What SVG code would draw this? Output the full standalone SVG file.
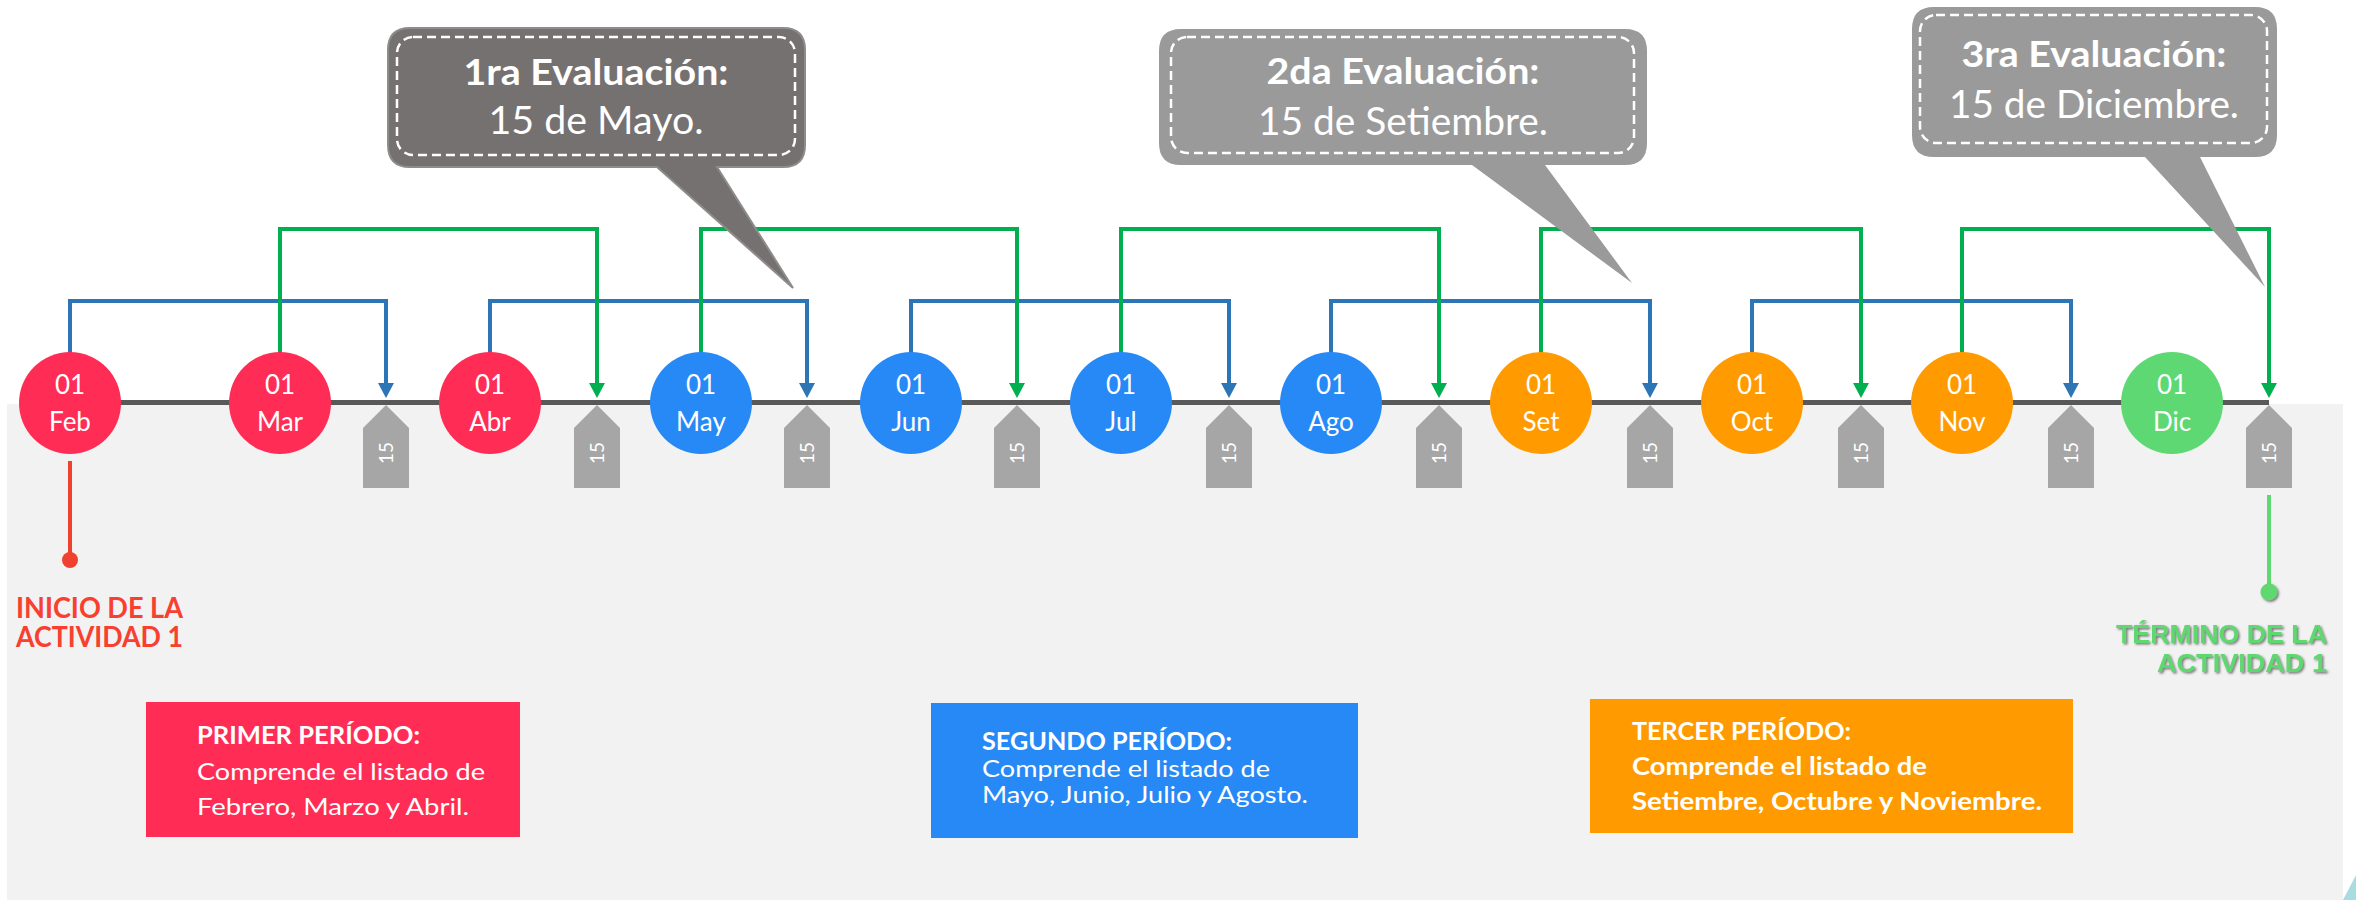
<svg xmlns="http://www.w3.org/2000/svg" width="2356" height="900" viewBox="0 0 2356 900">
<defs>
<style>
text{font-family:Lato,"Open Sans","Liberation Sans",sans-serif;}
.cir{stroke:none;}
.red{fill:#FF2D55;}
.blu{fill:#2789F6;}
.org{fill:#FF9A00;}
.grn{fill:#5ED873;}
.ct{fill:#fff;font-size:26px;text-anchor:middle;}
.tag{fill:#A6A6A6;}
.tt{fill:#fff;font-size:19px;text-anchor:middle;}
.cb{fill:none;stroke:#2E75B6;stroke-width:4;marker-end:url(#ab);}
.cg{fill:none;stroke:#00B050;stroke-width:4;marker-end:url(#ag);}
.dash{fill:none;stroke:#fff;stroke-width:2.5;stroke-dasharray:9 5;}
.h1{fill:#fff;font-size:36px;font-weight:bold;text-anchor:middle;}
.h2{fill:#fff;font-size:38px;text-anchor:middle;}
.pt{fill:#fff;font-size:24px;}
.b{font-weight:bold;}
</style>
<marker id="ab" markerUnits="userSpaceOnUse" markerWidth="16" markerHeight="16" refX="3" refY="8" orient="auto"><path d="M0,0 L15,8 L0,16 z" fill="#2E75B6"/></marker>
<marker id="ag" markerUnits="userSpaceOnUse" markerWidth="16" markerHeight="16" refX="3" refY="8" orient="auto"><path d="M0,0 L15,8 L0,16 z" fill="#00B050"/></marker>
<filter id="sh" x="-10%" y="-20%" width="120%" height="150%"><feDropShadow dx="1.5" dy="1.5" stdDeviation="0.8" flood-color="#6b6b6b" flood-opacity="0.9"/></filter>
</defs>
<rect x="0" y="0" width="2356" height="900" fill="#fff"/>
<rect id="panel" x="7" y="404" width="2336" height="496" fill="#F2F2F2"/>
<polygon points="2343,900 2356,875 2356,900" fill="#A9DCE0"/>

<g id="connectors">
<path class="cb" d="M70 360 V301 H386 V386"/>
<path class="cb" d="M490 360 V301 H807 V386"/>
<path class="cb" d="M911 360 V301 H1229 V386"/>
<path class="cb" d="M1331 360 V301 H1650 V386"/>
<path class="cb" d="M1752 360 V301 H2071 V386"/>
<path class="cg" d="M280 360 V229 H597 V386"/>
<path class="cg" d="M701 360 V229 H1017 V386"/>
<path class="cg" d="M1121 360 V229 H1439 V386"/>
<path class="cg" d="M1541 360 V229 H1861 V386"/>
<path class="cg" d="M1962 360 V229 H2269 V386"/>
<line x1="70" y1="461" x2="70" y2="560" stroke="#F0402F" stroke-width="4"/>
<line x1="2269" y1="495" x2="2269" y2="592" stroke="#5ED870" stroke-width="4"/>
</g>

<line id="timeline" x1="70" y1="402.5" x2="2269" y2="402.5" stroke="#595959" stroke-width="5"/>

<g id="tags">
<g id="tag1"><polygon class="tag" points="363,428 386,405 409,428 409,488 363,488"/><text class="tt" transform="translate(386,453) rotate(-90)" dy="7">15</text></g>
<g id="tag2"><polygon class="tag" points="574,428 597,405 620,428 620,488 574,488"/><text class="tt" transform="translate(597,453) rotate(-90)" dy="7">15</text></g>
<g id="tag3"><polygon class="tag" points="784,428 807,405 830,428 830,488 784,488"/><text class="tt" transform="translate(807,453) rotate(-90)" dy="7">15</text></g>
<g id="tag4"><polygon class="tag" points="994,428 1017,405 1040,428 1040,488 994,488"/><text class="tt" transform="translate(1017,453) rotate(-90)" dy="7">15</text></g>
<g id="tag5"><polygon class="tag" points="1206,428 1229,405 1252,428 1252,488 1206,488"/><text class="tt" transform="translate(1229,453) rotate(-90)" dy="7">15</text></g>
<g id="tag6"><polygon class="tag" points="1416,428 1439,405 1462,428 1462,488 1416,488"/><text class="tt" transform="translate(1439,453) rotate(-90)" dy="7">15</text></g>
<g id="tag7"><polygon class="tag" points="1627,428 1650,405 1673,428 1673,488 1627,488"/><text class="tt" transform="translate(1650,453) rotate(-90)" dy="7">15</text></g>
<g id="tag8"><polygon class="tag" points="1838,428 1861,405 1884,428 1884,488 1838,488"/><text class="tt" transform="translate(1861,453) rotate(-90)" dy="7">15</text></g>
<g id="tag9"><polygon class="tag" points="2048,428 2071,405 2094,428 2094,488 2048,488"/><text class="tt" transform="translate(2071,453) rotate(-90)" dy="7">15</text></g>
<g id="tag10"><polygon class="tag" points="2246,428 2269,405 2292,428 2292,488 2246,488"/><text class="tt" transform="translate(2269,453) rotate(-90)" dy="7">15</text></g>
</g>

<g id="feb"><circle class="cir red" cx="70" cy="403" r="51"/><text class="ct" x="70" y="394">01</text><text class="ct" x="70" y="431">Feb</text></g>
<g id="mar"><circle class="cir red" cx="280" cy="403" r="51"/><text class="ct" x="280" y="394">01</text><text class="ct" x="280" y="431">Mar</text></g>
<g id="abr"><circle class="cir red" cx="490" cy="403" r="51"/><text class="ct" x="490" y="394">01</text><text class="ct" x="490" y="431">Abr</text></g>
<g id="may"><circle class="cir blu" cx="701" cy="403" r="51"/><text class="ct" x="701" y="394">01</text><text class="ct" x="701" y="431">May</text></g>
<g id="jun"><circle class="cir blu" cx="911" cy="403" r="51"/><text class="ct" x="911" y="394">01</text><text class="ct" x="911" y="431">Jun</text></g>
<g id="jul"><circle class="cir blu" cx="1121" cy="403" r="51"/><text class="ct" x="1121" y="394">01</text><text class="ct" x="1121" y="431">Jul</text></g>
<g id="ago"><circle class="cir blu" cx="1331" cy="403" r="51"/><text class="ct" x="1331" y="394">01</text><text class="ct" x="1331" y="431">Ago</text></g>
<g id="set"><circle class="cir org" cx="1541" cy="403" r="51"/><text class="ct" x="1541" y="394">01</text><text class="ct" x="1541" y="431">Set</text></g>
<g id="oct"><circle class="cir org" cx="1752" cy="403" r="51"/><text class="ct" x="1752" y="394">01</text><text class="ct" x="1752" y="431">Oct</text></g>
<g id="nov"><circle class="cir org" cx="1962" cy="403" r="51"/><text class="ct" x="1962" y="394">01</text><text class="ct" x="1962" y="431">Nov</text></g>
<g id="dic"><circle class="cir grn" cx="2172" cy="403" r="51"/><text class="ct" x="2172" y="394">01</text><text class="ct" x="2172" y="431">Dic</text></g>

<g id="inicio">
<circle cx="70" cy="560" r="8" fill="#F0402F"/>
<text x="16" y="618" fill="#F7402F" font-size="28" font-weight="bold" textLength="167" lengthAdjust="spacingAndGlyphs">INICIO DE LA</text>
<text x="16" y="647" fill="#F7402F" font-size="28" font-weight="bold" textLength="167" lengthAdjust="spacingAndGlyphs">ACTIVIDAD 1</text>
</g>

<g id="termino" filter="url(#sh)">
<circle cx="2269" cy="592" r="8.5" fill="#5ED870"/>
<text x="2327" y="643" fill="#5ED870" font-size="26" font-weight="bold" text-anchor="end" style="font-family:'Liberation Sans',Arial,sans-serif" textLength="211" lengthAdjust="spacingAndGlyphs">TÉRMINO DE LA</text>
<text x="2327" y="672" fill="#5ED870" font-size="26" font-weight="bold" text-anchor="end" style="font-family:'Liberation Sans',Arial,sans-serif" textLength="170" lengthAdjust="spacingAndGlyphs">ACTIVIDAD 1</text>
</g>

<g id="periodo1">
<rect x="146" y="702" width="374" height="135" fill="#FF2D55"/>
<text class="pt b" x="197" y="744" textLength="223" lengthAdjust="spacingAndGlyphs">PRIMER PERÍODO:</text>
<text class="pt" x="197" y="780" textLength="288" lengthAdjust="spacingAndGlyphs">Comprende el listado de</text>
<text class="pt" x="197" y="815" textLength="272" lengthAdjust="spacingAndGlyphs">Febrero, Marzo y Abril.</text>
</g>
<g id="periodo2">
<rect x="931" y="703" width="427" height="135" fill="#2789F6"/>
<text class="pt b" x="982" y="750" textLength="250" lengthAdjust="spacingAndGlyphs">SEGUNDO PERÍODO:</text>
<text class="pt" x="982" y="777" textLength="288" lengthAdjust="spacingAndGlyphs">Comprende el listado de</text>
<text class="pt" x="982" y="803" textLength="326" lengthAdjust="spacingAndGlyphs">Mayo, Junio, Julio y Agosto.</text>
</g>
<g id="periodo3">
<rect x="1590" y="699" width="483" height="134" fill="#FF9A00"/>
<text class="pt b" x="1632" y="740" textLength="219" lengthAdjust="spacingAndGlyphs">TERCER PERÍODO:</text>
<text class="pt b" x="1632" y="775" textLength="295" lengthAdjust="spacingAndGlyphs">Comprende el listado de</text>
<text class="pt b" x="1632" y="810" textLength="410" lengthAdjust="spacingAndGlyphs">Setiembre, Octubre y Noviembre.</text>
</g>

<g id="eval1">
<path d="M410 28 H783 Q805 28 805 50 V145 Q805 167 783 167 H717 L793 288 L657 167 H410 Q388 167 388 145 V50 Q388 28 410 28 Z" fill="#767171" stroke="#8E8B8B" stroke-width="2"/>
<rect class="dash" x="397" y="37" width="398" height="118" rx="16"/>
<text class="h1" x="596" y="85" textLength="265" lengthAdjust="spacingAndGlyphs">1ra Evaluación:</text>
<text class="h2" x="596" y="134" textLength="215" lengthAdjust="spacingAndGlyphs">15 de Mayo.</text>
</g>
<g id="eval2">
<path d="M1181 29 H1625 Q1647 29 1647 51 V143 Q1647 165 1625 165 H1545 L1632 283 L1472 165 H1181 Q1159 165 1159 143 V51 Q1159 29 1181 29 Z" fill="#9A9A9A"/>
<rect class="dash" x="1171" y="37" width="463" height="116" rx="16"/>
<text class="h1" x="1403" y="84" textLength="273" lengthAdjust="spacingAndGlyphs">2da Evaluación:</text>
<text class="h2" x="1403" y="135" textLength="290" lengthAdjust="spacingAndGlyphs">15 de Setiembre.</text>
</g>
<g id="eval3">
<path d="M1934 7 H2255 Q2277 7 2277 29 V135 Q2277 157 2255 157 H2200 L2265 287 L2145 157 H1934 Q1912 157 1912 135 V29 Q1912 7 1934 7 Z" fill="#9A9A9A"/>
<rect class="dash" x="1920" y="15" width="347" height="128" rx="16"/>
<text class="h1" x="2094" y="67" textLength="265" lengthAdjust="spacingAndGlyphs">3ra Evaluación:</text>
<text class="h2" x="2094" y="118" textLength="290" lengthAdjust="spacingAndGlyphs">15 de Diciembre.</text>
</g>
</svg>
